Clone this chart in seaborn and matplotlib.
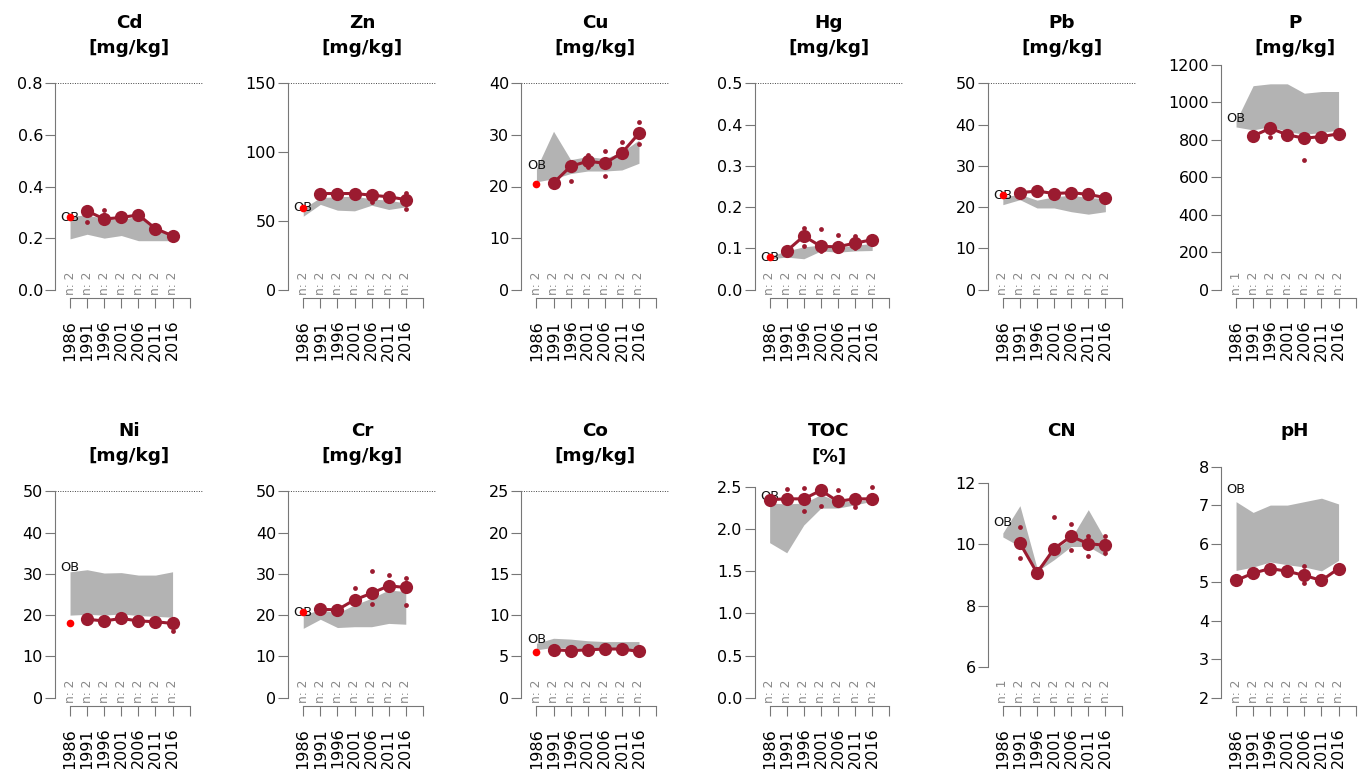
import numpy as np
import pandas as pd
import matplotlib
matplotlib.use("Agg")
import matplotlib.pyplot as plt
import seaborn as sns

# sampling years and axis ticks
YEARS = [1986, 1991, 1996, 2001, 2006, 2011, 2016]
AXIS_YEARS = YEARS + [2021]

PANELS = ["Cd", "Zn", "Cu", "Hg", "Pb", "P", "Ni", "Cr", "Co", "TOC", "CN", "pH"]
UNITS = {"Cd": "[mg/kg]", "Zn": "[mg/kg]", "Cu": "[mg/kg]", "Hg": "[mg/kg]", "Pb": "[mg/kg]",
         "P": "[mg/kg]", "Ni": "[mg/kg]", "Cr": "[mg/kg]", "Co": "[mg/kg]", "TOC": "[%]",
         "CN": None, "pH": None}

# mean per year (None = no mean drawn)
MEAN = {
    "Cd": [None, 0.305, 0.274, 0.280, 0.290, 0.237, 0.209],
    "Zn": [None, 69.9, 69.9, 69.9, 68.7, 67.5, 65.5],
    "Cu": [None, 20.7, 23.9, 24.9, 24.5, 26.5, 30.3],
    "Hg": [None, 0.094, 0.130, 0.105, 0.104, 0.113, 0.121],
    "Pb": [None, 23.5, 23.9, 23.3, 23.5, 23.1, 22.3],
    "P": [None, 820, 861, 826, 808, 817, 831],
    "Ni": [None, 19.0, 18.6, 19.2, 18.6, 18.4, 18.0],
    "Cr": [None, 21.4, 21.3, 23.7, 25.3, 27.1, 26.7],
    "Co": [None, 5.8, 5.7, 5.8, 5.9, 5.9, 5.6],
    "TOC": [2.35, 2.36, 2.36, 2.46, 2.33, 2.36, 2.36],
    "CN": [None, 10.04, 9.07, 9.86, 10.26, 10.02, 9.97],
    "pH": [5.05, 5.24, 5.36, 5.29, 5.18, 5.05, 5.36],
}

# grey reference band
BAND_LO = {
    "Cd": [0.197, 0.215, 0.200, 0.210, 0.190, 0.190, 0.190],
    "Zn": [53.4, 62.0, 57.8, 57.3, 61.4, 58.3, 60.2],
    "Cu": [20.9, 21.5, 22.5, 23.0, 23.0, 23.2, 24.5],
    "Hg": [0.075, 0.079, 0.075, 0.094, 0.091, 0.094, 0.095],
    "Pb": [20.6, 21.8, 19.8, 19.8, 18.9, 18.3, 18.9],
    "P": [868, 852, 870, 843, 829, 838, 852],
    "Ni": [20.0, 20.2, 20.0, 20.3, 19.9, 19.7, 19.5],
    "Cr": [16.8, 19.0, 17.0, 17.2, 17.2, 18.0, 17.8],
    "Co": [5.8, 6.1, 6.0, 6.0, 6.0, 5.9, 5.9],
    "TOC": [1.84, 1.72, 2.05, 2.25, 2.25, 2.29, 2.33],
    "CN": [10.24, 9.93, 9.12, 9.50, 9.93, 9.93, 9.61],
    "pH": [5.31, 5.40, 5.53, 5.46, 5.40, 5.30, 5.57],
}
BAND_HI = {
    "Cd": [0.285, 0.290, 0.275, 0.272, 0.285, 0.240, 0.210],
    "Zn": [59.0, 67.0, 67.5, 68.0, 66.0, 65.0, 63.0],
    "Cu": [23.5, 30.7, 25.2, 25.8, 25.4, 26.7, 29.0],
    "Hg": [0.081, 0.094, 0.104, 0.108, 0.102, 0.108, 0.112],
    "Pb": [22.5, 23.1, 21.7, 22.5, 22.9, 22.3, 22.1],
    "P": [900, 1088, 1098, 1098, 1048, 1057, 1057],
    "Ni": [30.5, 31.0, 30.2, 30.3, 29.7, 29.7, 30.5],
    "Cr": [20.1, 21.3, 20.5, 22.5, 24.1, 26.1, 25.7],
    "Co": [6.6, 7.2, 7.1, 6.9, 6.8, 6.8, 6.8],
    "TOC": [2.31, 2.30, 2.31, 2.41, 2.33, 2.33, 2.36],
    "CN": [10.37, 11.26, 9.23, 9.83, 10.20, 11.13, 10.15],
    "pH": [7.10, 6.82, 7.01, 7.01, 7.10, 7.19, 7.04],
}

# single samples visible beside the mean
SAMPLE_1 = {
    "Cd": [None, 0.322, 0.308, None, None, None, None],
    "Zn": [None, None, None, None, None, None, 70.0],
    "Cu": [None, None, None, 26.1, 26.9, 28.7, 32.4],
    "Hg": [None, None, 0.150, 0.147, 0.133, 0.129, None],
    "Pb": [None] * 7,
    "P": [None, None, 879, None, None, None, None],
    "Ni": [None] * 7,
    "Cr": [None, None, None, 26.5, 30.6, 29.8, 29.0],
    "Co": [None] * 7,
    "TOC": [None, 2.48, 2.49, 2.65, 2.47, None, 2.50],
    "CN": [None, 10.55, None, 10.89, 10.65, 10.26, 10.28],
    "pH": [None, None, None, None, 5.42, None, None],
}
SAMPLE_2 = {
    "Cd": [None, 0.264, None, None, None, None, None],
    "Zn": [None, None, None, None, 63.8, None, 58.7],
    "Cu": [None, None, 21.0, 23.8, 22.1, None, 28.2],
    "Hg": [None, None, 0.105, 0.095, 0.094, 0.100, None],
    "Pb": [None] * 7,
    "P": [None, None, 817, None, 692, None, None],
    "Ni": [None, None, None, None, 17.6, None, 16.2],
    "Cr": [None, None, None, None, 22.7, None, 22.5],
    "Co": [None] * 7,
    "TOC": [None, None, 2.22, 2.28, None, 2.26, None],
    "CN": [None, 9.55, None, None, 9.80, 9.61, 9.72],
    "pH": [None, None, None, None, 4.98, None, None],
}

N_COUNT = {p: [2] * 7 for p in PANELS}
N_COUNT["P"] = [1, 2, 2, 2, 2, 2, 2]
N_COUNT["CN"] = [1, 2, 2, 2, 2, 2, 2]

OB_POINT = {"Cd": 0.281, "Zn": 59.5, "Cu": 20.4, "Hg": 0.079, "Pb": 22.9, "P": None,
            "Ni": 18.2, "Cr": 20.7, "Co": 5.5, "TOC": None, "CN": None, "pH": None}
OB_LABEL_Y = {"Cd": 0.281, "Zn": 59.5, "Cu": 24.1, "Hg": 0.079, "Pb": 22.9, "P": 915,
              "Ni": 31.5, "Cr": 20.7, "Co": 7.0, "TOC": 2.39, "CN": 10.70, "pH": 7.42}

YLIM = {"Cd": (0, 0.8), "Zn": (0, 150), "Cu": (0, 40), "Hg": (0, 0.5), "Pb": (0, 50),
        "P": (0, 1101), "Ni": (0, 50), "Cr": (0, 50), "Co": (0, 25), "TOC": (0, 2.45),
        "CN": (5, 11.73), "pH": (2, 7.37)}
YTICKS = {
    "Cd": ["0.0", "0.2", "0.4", "0.6", "0.8"],
    "Zn": ["0", "50", "100", "150"],
    "Cu": ["0", "10", "20", "30", "40"],
    "Hg": ["0.0", "0.1", "0.2", "0.3", "0.4", "0.5"],
    "Pb": ["0", "10", "20", "30", "40", "50"],
    "P": ["0", "200", "400", "600", "800", "1000", "1200"],
    "Ni": ["0", "10", "20", "30", "40", "50"],
    "Cr": ["0", "10", "20", "30", "40", "50"],
    "Co": ["0", "5", "10", "15", "20", "25"],
    "TOC": ["0.0", "0.5", "1.0", "1.5", "2.0", "2.5"],
    "CN": ["6", "8", "10", "12"],
    "pH": ["2", "3", "4", "5", "6", "7", "8"],
}
GUIDE = {"Cd": 0.8, "Zn": 150, "Cu": 40, "Hg": 0.5, "Pb": 50, "P": None,
         "Ni": 50, "Cr": 50, "Co": 25, "TOC": None, "CN": None, "pH": None}

sns.set_theme(style="white")
plt.rcParams["font.family"] = ["DejaVu Sans"]
plt.rcParams["text.color"] = "black"

W, H = 1363, 769
fig = plt.figure(figsize=(W / 100, H / 100), dpi=100)

DARK = "#9B1B30"
BAND = "#B3B3B3"
AXC = "#777777"

for i, name in enumerate(PANELS):
    row, col = divmod(i, 6)
    left_px = 55 + 233.2 * col
    top_px = 75 + 408 * row
    bot_px = 298 + 408 * row

    lo, hi = YLIM[name]
    pad = 0.04 * (hi - lo)
    u0, u1 = lo - pad, hi + pad
    scale = (bot_px - top_px) / (u1 - u0)
    ticks = [float(t) for t in YTICKS[name]]
    if ticks[-1] > u1:
        u1 = ticks[-1] + 0.5 / scale
        top_px = bot_px - (u1 - u0) * scale

    ax = fig.add_axes([left_px / W, 1 - bot_px / H, 148 / W, (bot_px - top_px) / H])
    ax.set_facecolor("none")

    # grey band
    ax.fill_between(YEARS, BAND_LO[name], BAND_HI[name], color=BAND, lw=0, zorder=1)

    if GUIDE[name] is not None:
        ax.axhline(GUIDE[name], color="#444444", lw=0.7, ls=(0, (1, 1.5)), zorder=0)

    ax.text(1986, OB_LABEL_Y[name], "OB", ha="center", va="center", fontsize=9.3,
            color="#111111", zorder=2)
    if OB_POINT[name] is not None:
        ax.plot(1986, OB_POINT[name], "o", color="red", ms=5.5, mec="none", zorder=5)

    df = pd.DataFrame({"year": YEARS, "mean": MEAN[name]}).dropna()
    sns.lineplot(data=df, x="year", y="mean", ax=ax, color=DARK, lw=2.2, marker="o",
                 ms=9.5, mec=DARK, mew=0, zorder=4)

    pts = pd.DataFrame({"year": YEARS * 2, "value": SAMPLE_1[name] + SAMPLE_2[name]}).dropna()
    if len(pts):
        sns.scatterplot(data=pts, x="year", y="value", ax=ax, color=DARK, s=12,
                        linewidth=0, zorder=4)

    for yr, n in zip(YEARS, N_COUNT[name]):
        ax.annotate(f"n: {n}", xy=(yr, 0), xycoords=("data", "axes fraction"),
                    xytext=(0, 2.5), textcoords="offset points", rotation=90,
                    ha="center", va="bottom", fontsize=8.8, color="#888888")

    ax.set_xlim(1981.6, 2024.9)
    ax.set_ylim(u0, u1)
    ax.set_xticks(AXIS_YEARS, labels=[str(y) for y in YEARS] + [""], rotation=90)
    ax.set_yticks(ticks, labels=YTICKS[name])
    ax.set_xlabel("")
    ax.set_ylabel("")
    ax.grid(False)
    for s in ["top", "right"]:
        ax.spines[s].set_visible(False)
    ax.spines["left"].set_bounds(ticks[0], ticks[-1])
    ax.spines["bottom"].set_bounds(1986, 2021)
    for s in ["left", "bottom"]:
        ax.spines[s].set_color(AXC)
        ax.spines[s].set_linewidth(0.8)
    ax.tick_params(axis="y", length=7.2, width=0.8, color=AXC, labelsize=11.5,
                   pad=1.5, labelcolor="black", left=True)
    ax.tick_params(axis="x", length=7.2, width=0.8, color=AXC, labelsize=11.5,
                   pad=8.5, labelcolor="black", bottom=True)

    cx = (left_px + 74) / W
    base1 = 28.3 + 408 * row
    fig.text(cx, 1 - base1 / H, name, ha="center", va="baseline",
             fontsize=13.2, fontweight="bold", color="black")
    if UNITS[name]:
        base2 = 53.3 + 408 * row
        fig.text(cx, 1 - base2 / H, UNITS[name], ha="center", va="baseline",
                 fontsize=13.2, fontweight="bold", color="black")

fig.savefig("out.png", dpi=100)
plt.close(fig)
